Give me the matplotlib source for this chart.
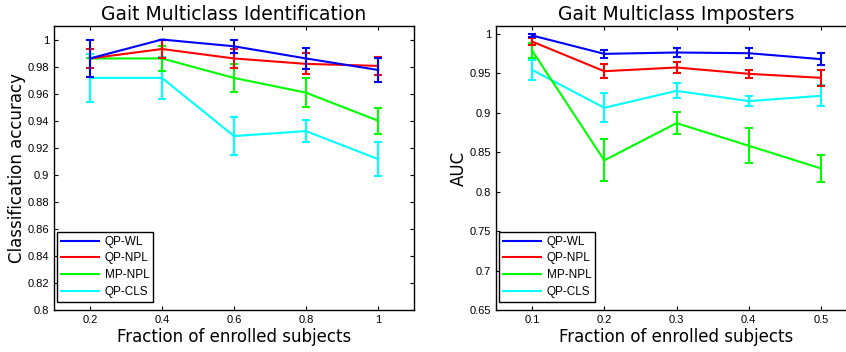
import numpy as np
import matplotlib
matplotlib.use("Agg")
import matplotlib.pyplot as plt
from matplotlib.lines import Line2D

names = ["QP-WL", "QP-NPL", "MP-NPL", "QP-CLS"]
colors = ["#0000ff", "#ff0000", "#00ff00", "#00ffff"]

# Gait Multiclass Identification
x_id = [0.2, 0.4, 0.6, 0.8, 1.0]
acc_wl = [0.986, 1.000, 0.995, 0.986, 0.9775]
acc_npl = [0.986, 0.993, 0.986, 0.982, 0.9805]
acc_mp = [0.986, 0.986, 0.9716, 0.9607, 0.940]
acc_cls = [0.9716, 0.9716, 0.9286, 0.9323, 0.9116]
err_wl = [0.0134, 0.0, 0.0047, 0.0075, 0.0087]
err_npl = [0.007, 0.007, 0.0068, 0.0077, 0.0065]
err_mp = [0.0, 0.0093, 0.0101, 0.0108, 0.0095]
err_cls = [0.018, 0.0155, 0.0138, 0.0079, 0.0128]

# Gait Multiclass Imposters
x_imp = [0.1, 0.2, 0.3, 0.4, 0.5]
auc_wl = [0.998, 0.9747, 0.9764, 0.9755, 0.968]
auc_npl = [0.9903, 0.9527, 0.9574, 0.9494, 0.9443]
auc_mp = [0.9789, 0.8397, 0.8869, 0.8582, 0.8295]
auc_cls = [0.9544, 0.9063, 0.9278, 0.9148, 0.9215]
aerr_wl = [0.002, 0.005, 0.0063, 0.006, 0.0078]
aerr_npl = [0.0046, 0.0089, 0.0074, 0.0053, 0.0103]
aerr_mp = [0.01, 0.0268, 0.0139, 0.0222, 0.0169]
aerr_cls = [0.013, 0.0184, 0.0097, 0.0063, 0.0135]

plt.rcParams['font.family'] = ['Liberation Sans', 'DejaVu Sans']

fig = plt.figure(figsize=(8.46, 3.52), dpi=100)
ax1 = fig.add_axes([54 / 846, 42 / 352, 360 / 846, 284 / 352])
ax2 = fig.add_axes([496 / 846, 42 / 352, 361 / 846, 284 / 352])


def draw(ax, x, ys, errs):
    for i in range(3, -1, -1):
        ax.errorbar(x, ys[i], yerr=errs[i], color=colors[i], lw=1.5,
                    elinewidth=1.5, capsize=3, capthick=1.5,
                    zorder=10 - i)
    handles = [Line2D([], [], color=c, lw=1.5) for c in colors]
    leg = ax.legend(handles, names, loc="lower left", fontsize=8.5,
                    bbox_to_anchor=(0.008, 0.028), borderaxespad=0,
                    fancybox=False, edgecolor="black", framealpha=1,
                    handlelength=3.2, labelspacing=0.4,
                    handletextpad=0.5, borderpad=0.35)
    leg.get_frame().set_linewidth(1.0)
    ax.tick_params(direction="in", top=True, right=True, labelsize=8,
                   length=3)
    for s in ax.spines.values():
        s.set_linewidth(1.0)


draw(ax1, x_id, [acc_wl, acc_npl, acc_mp, acc_cls],
     [err_wl, err_npl, err_mp, err_cls])
ax1.set_xlim(0.1, 1.1)
ax1.set_ylim(0.8, 1.01)
ax1.set_xticks(x_id)
ax1.set_xticklabels(["0.2", "0.4", "0.6", "0.8", "1"])
ax1.set_yticks(np.arange(0.8, 1.001, 0.02))
ax1.set_yticklabels(["0.8", "0.82", "0.84", "0.86", "0.88", "0.9", "0.92",
                     "0.94", "0.96", "0.98", "1"])
ax1.set_title("Gait Multiclass Identification", fontsize=13.5,
              family="DejaVu Sans", pad=4)
ax1.set_xlabel("Fraction of enrolled subjects", fontsize=12,
               family="DejaVu Sans", labelpad=2)
ax1.set_ylabel("Classification accuracy", fontsize=12,
               family="DejaVu Sans", labelpad=1)

draw(ax2, x_imp, [auc_wl, auc_npl, auc_mp, auc_cls],
     [aerr_wl, aerr_npl, aerr_mp, aerr_cls])
ax2.set_xlim(0.05, 0.55)
ax2.set_ylim(0.65, 1.01)
ax2.set_xticks(x_imp)
ax2.set_yticks(np.arange(0.65, 1.001, 0.05))
ax2.set_yticklabels(["0.65", "0.7", "0.75", "0.8", "0.85", "0.9", "0.95",
                     "1"])
ax2.set_title("Gait Multiclass Imposters", fontsize=13.5,
              family="DejaVu Sans", pad=4)
ax2.set_xlabel("Fraction of enrolled subjects", fontsize=12,
               family="DejaVu Sans", labelpad=2)
ax2.set_ylabel("AUC", fontsize=12, family="DejaVu Sans", labelpad=1)

fig.savefig("out.png", dpi=100)
